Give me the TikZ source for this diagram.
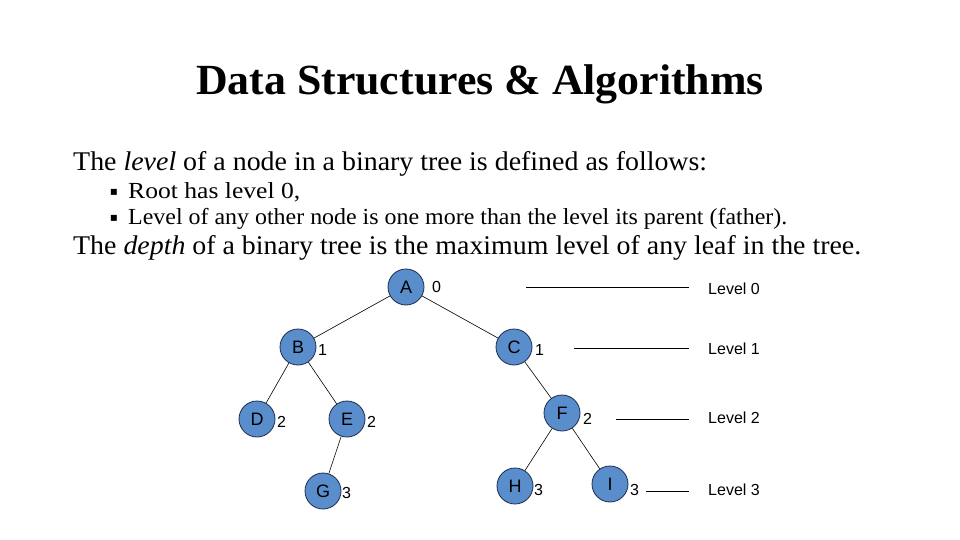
\documentclass[tikz,border=0pt]{standalone}
\usepackage{fontspec}
\usepackage{graphicx}
\setmainfont{Liberation Serif}
\newfontfamily\arialf{Liberation Sans}
\newfontfamily\dejavuf{DejaVu Sans}
\definecolor{nodeblue}{RGB}{90,141,204}
\definecolor{nodeedge}{RGB}{28,45,75}
\newcommand\fitw[2]{\resizebox{#1pt}{\height}{#2}}
\begin{document}
\begin{tikzpicture}[x=1pt,y=-1pt,
  tnode/.style={circle, draw=nodeedge, line width=0.8pt, fill=nodeblue,
    minimum size=36pt, inner sep=0pt, font=\arialf\fontsize{18}{18}\selectfont},
  numlab/.style={anchor=west, inner sep=0pt, font=\arialf\fontsize{16}{16}\selectfont},
  lvl/.style={anchor=west, inner sep=0pt, font=\arialf\fontsize{16}{16}\selectfont},
  link/.style={draw=black, line width=0.6pt},
  lvline/.style={draw=black, line width=0.7pt},
  bodytxt/.style={anchor=base west, inner sep=0pt},
  bul/.style={anchor=center, inner sep=0pt, font=\dejavuf\fontsize{12}{12}\selectfont}]
\useasboundingbox (0,0) rectangle (960,540);
\fill[white] (0,0) rectangle (960,540);

% title and text
\node[anchor=base, inner sep=0pt] (title) at (480,95)
  {\fitw{568}{\bfseries\fontsize{43}{43}\selectfont Data Structures \& Algorithms}};
\node[bodytxt] (t1) at (73,171)
  {\fitw{634}{\fontsize{27}{27}\selectfont The \textit{level} of a node in a binary tree is defined as follows:}};
\node[bul] (b1) at (114,192) {▪};
\node[bodytxt] (t2) at (128,198)
  {\fitw{172}{\fontsize{23}{23}\selectfont Root has level 0,}};
\node[bul] (b2) at (114,218) {▪};
\node[bodytxt] (t3) at (128,224)
  {\fitw{659}{\fontsize{23}{23}\selectfont Level of any other node is one more than the level its parent (father).}};
\node[bodytxt] (t4) at (73,254)
  {\fitw{788}{\fontsize{27}{27}\selectfont The \textit{depth} of a binary tree is the maximum level of any leaf in the tree.}};

% tree
\node[tnode] (A) at (406,287) {A};
\node[tnode] (B) at (298,347) {B};
\node[tnode] (C) at (514,347) {C};
\node[tnode] (D) at (257,419) {D};
\node[tnode] (E) at (347,419) {E};
\node[tnode] (F) at (562,413) {F};
\node[tnode] (G) at (323,491) {G};
\node[tnode] (H) at (515,486) {H};
\node[tnode] (I) at (610,484) {I};

\draw[link] (A) -- (B);
\draw[link] (A) -- (C);
\draw[link] (B) -- (D);
\draw[link] (B) -- (E);
\draw[link] (E) -- (G);
\draw[link] (C) -- (F);
\draw[link] (F) -- (H);
\draw[link] (F) -- (I);

\node[numlab] (nA) at (432,287) {0};
\node[numlab] (nB) at (318,350) {1};
\node[numlab] (nC) at (535,350) {1};
\node[numlab] (nD) at (277,422) {2};
\node[numlab] (nE) at (367,422) {2};
\node[numlab] (nF) at (583,419) {2};
\node[numlab] (nG) at (342,493) {3};
\node[numlab] (nH) at (534,490) {3};
\node[numlab] (nI) at (630,490) {3};

% level lines
\coordinate (l0a) at (526,287); \coordinate (l0b) at (689,287);
\coordinate (l1a) at (574,348); \coordinate (l1b) at (689,348);
\coordinate (l2a) at (616,419); \coordinate (l2b) at (689,419);
\coordinate (l3a) at (646,491); \coordinate (l3b) at (689,491);
\draw[lvline] (l0a) -- (l0b);
\draw[lvline] (l1a) -- (l1b);
\draw[lvline] (l2a) -- (l2b);
\draw[lvline] (l3a) -- (l3b);
\node[lvl] (L0) at (708,289) {Level 0};
\node[lvl] (L1) at (708,349) {Level 1};
\node[lvl] (L2) at (708,418) {Level 2};
\node[lvl] (L3) at (708,490) {Level 3};
\end{tikzpicture}
\end{document}
